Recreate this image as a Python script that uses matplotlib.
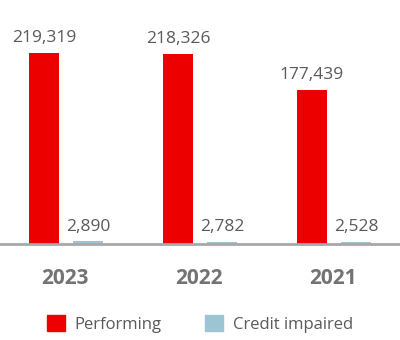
import numpy as np
import matplotlib.pyplot as plt
from matplotlib.patches import Patch

years = ["2023", "2022", "2021"]
performing = [219319, 218326, 177439]
creditImpaired = [2890, 2782, 2528]

redColour = "#EC0000"
blueColour = "#9DC4D2"
textGrey = "#5A5A5A"

plt.rcParams["font.family"] = ["Open Sans", "DejaVu Sans"]

fig = plt.figure(figsize=(4, 3.4), dpi=100)
ax = fig.add_axes([0, 0.2824, 1, 0.640])

x = np.arange(len(years))
width = 0.224

bars1 = ax.bar(x - 0.157, performing, width, color=redColour, label="Performing")
bars2 = ax.bar(x + 0.172, creditImpaired, width, color=blueColour, label="Credit impaired")

ax.bar_label(bars1, labels=[f"{v:,}" for v in performing], padding=5, fontsize=12.5, color=textGrey)
ax.bar_label(bars2, labels=[f"{v:,}" for v in creditImpaired], padding=5, fontsize=12.5, color=textGrey)

ax.set_xlim(-0.485, 2.5)
ax.set_ylim(0, 250000)

for s in ["top", "right", "left"]:
    ax.spines[s].set_visible(False)
ax.spines["bottom"].set_color("#A8A8A8")
ax.spines["bottom"].set_linewidth(2)
ax.set_yticks([])
ax.set_xticks(x)
ax.set_xticklabels(years, fontsize=15, fontweight="bold", color="#737373")
ax.tick_params(axis="x", length=0, pad=17)

handles = [Patch(color=redColour, label="Performing"), Patch(color=blueColour, label="Credit impaired")]
fig.legend(handles=handles, loc="center", bbox_to_anchor=(0.5, 0.047), ncol=2, frameon=False,
           fontsize=12, labelcolor=textGrey, handlelength=1.08, handleheight=1.08, columnspacing=2.6,
           handletextpad=0.6)

fig.savefig("out.png", dpi=100)
